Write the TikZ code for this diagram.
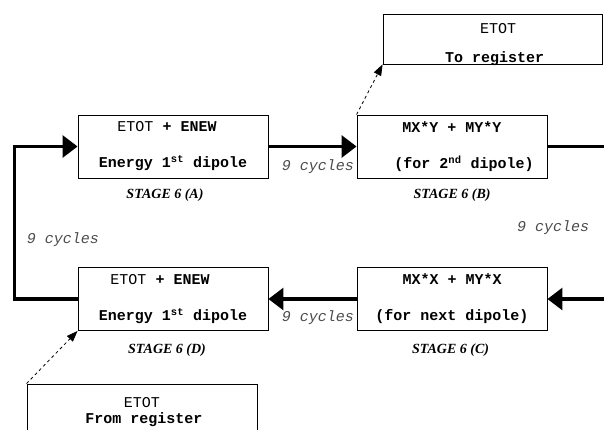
\documentclass[tikz,border=0pt]{standalone}
\usepackage{fontspec}
\setmainfont{Liberation Serif}
\setmonofont{Liberation Mono}
\usetikzlibrary{arrows.meta}

\tikzset{
  stagebox/.style={draw, line width=0.9pt, minimum width=190pt, minimum height=63pt,
    inner sep=0pt, align=center, font=\fontsize{15}{18}\selectfont\ttfamily},
  regbox/.style={draw, line width=0.9pt, minimum height=50pt, inner sep=0pt},
  regtext/.style={inner sep=0pt, font=\fontsize{15}{18}\selectfont\ttfamily},
  flow/.style={line width=3.2pt, -{Triangle[length=15pt,width=22pt]}},
  bus/.style={line width=3.2pt},
  link/.style={dashed, line width=0.8pt, -{Triangle[length=11pt,width=8pt]}},
  cycles/.style={inner sep=0pt, text=black!70, font=\fontsize{15}{18}\selectfont\ttfamily\itshape},
  stage/.style={inner sep=0pt, font=\fontsize{14}{16}\selectfont\bfseries\itshape}
}

\begin{document}
\begin{tikzpicture}[x=1pt, y=-1pt]
  \useasboundingbox (0,0) rectangle (604,429);

  % pipeline stages
  \node[stagebox] (A) at (173,146.5) {ETOT \textbf{+ ENEW}\hspace*{12pt}\\[18pt]\textbf{Energy 1\textsuperscript{st} dipole}};
  \node[stagebox] (B) at (452,146.5) {\textbf{MX*Y + MY*Y}\\[18pt]\hspace*{24pt}\textbf{(for 2\textsuperscript{nd} dipole)}};
  \node[stagebox] (C) at (452,299) {\textbf{MX*X + MY*X}\\[18pt]\textbf{(for next dipole)}};
  \node[stagebox] (D) at (173,299) {ETOT \textbf{+ ENEW}\hspace*{26pt}\\[18pt]\textbf{Energy 1\textsuperscript{st} dipole}};

  \node[stage] (sA) at (165,195.5) {STAGE 6 (A)};
  \node[stage] (sB) at (452,195.5) {STAGE 6 (B)};
  \node[stage] (sC) at (450.5,350) {STAGE 6 (C)};
  \node[stage] (sD) at (167,350) {STAGE 6 (D)};

  % register boxes
  \node[regbox, minimum width=219pt] (toreg) at (492.5,39) {};
  \node[regtext, anchor=base] (toregA) at (498,33) {ETOT};
  \node[regtext, anchor=base] (toregB) at (494.5,62) {\textbf{To register}};
  \node[regbox, minimum width=230pt, minimum height=56pt] (fromreg) at (142,412) {};
  \node[regtext, anchor=base] (fromregA) at (142,407) {ETOT};
  \node[regtext, anchor=base] (fromregB) at (144,423) {\textbf{From register}};

  % data flow
  \coordinate (edge) at (612,0);
  \draw[flow] (D.west) -- ++(-63,0) |- (A.west);
  \draw[flow] (A.east) -- (B.west);
  \draw[bus] (B.east) -- (B.east -| edge);
  \draw[flow] (C.east -| edge) -- (C.east);
  \draw[flow] (C.west) -- (D.east);
  \draw[link] (B.north west) -- (toreg.south west);
  \draw[link] (fromreg.north west) -- (D.south west);

  \node[cycles] (cAB) at (318,167) {9 cycles};
  \node[cycles] (cCD) at (318,318) {9 cycles};
  \node[cycles] (cL) at (63,240) {9 cycles};
  \node[cycles] (cR) at (553,228) {9 cycles};
\end{tikzpicture}
\end{document}
